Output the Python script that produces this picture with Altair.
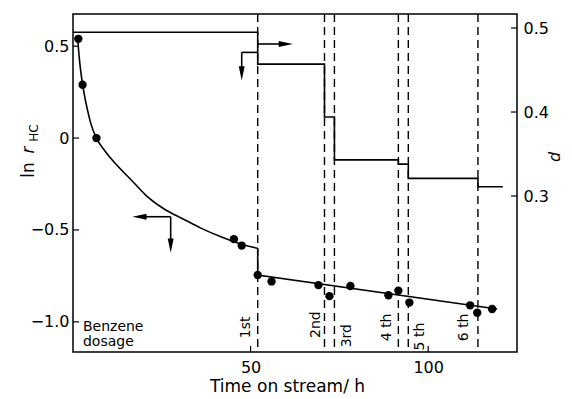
import altair as alt
import pandas as pd

FONT = "DejaVu Sans"

# ---------------- data ----------------
# measured ln r_HC points (left axis)
pt_t = [1.5, 2.7, 6.6, 45.3, 47.5, 52.0, 55.9, 69.1, 72.2, 78.1, 88.8, 91.6, 94.7, 111.8, 113.8, 118.0]
pt_v = [0.54, 0.29, 0.0, -0.55, -0.585, -0.745, -0.78, -0.80, -0.86, -0.805, -0.855, -0.83, -0.895, -0.91, -0.95, -0.93]

# fitted curve before 1st dosage (left axis)
cur_t = [1.3, 1.7, 2.2, 2.8, 4, 5, 6.6, 9, 12, 16, 21, 26, 31, 36, 42, 47, 52]
cur_v = [0.55, 0.45, 0.36, 0.28, 0.16, 0.08, 0.0, -0.07, -0.14, -0.22, -0.32, -0.39, -0.44, -0.49, -0.54, -0.575, -0.60]

# straight line after 1st dosage (left axis)
lin_t = [52.0, 52.0, 119.4]
lin_v = [-0.60, -0.745, -0.93]

# d step line (right axis)
d_t = [0, 52.0, 70.8, 73.6, 91.6, 94.4, 114.0, 121.0]
d_v = [0.495, 0.457, 0.394, 0.343, 0.338, 0.321, 0.311, 0.311]

# benzene dosage times
dose_t = [52.0, 70.8, 73.6, 91.6, 94.4, 114.0]
dose_lab = ["1st", "2nd", "3rd", "4 th", "5 th", "6 th"]
dose_lab_t = [48.6, 68.3, 77.2, 88.5, 97.8, 110.1]
dose_lab_v = [-1.03, -1.015, -1.075, -1.03, -1.08, -1.03]

note_lines = ["Benzene", "dosage"]
note_t = [2.8, 2.8]
note_v = [-1.028, -1.11]

x_ticks = [50, 100]
left_ticks = [0.5, 0.0, -0.5, -1.0]
right_ticks = [0.3, 0.4, 0.5]

# arrows (segments + heads)
arr_left_seg = {"t": [27.5, 27.5], "t2": [19.5, 27.5], "v": [-0.428, -0.428], "v2": [-0.428, -0.57]}
arr_left_head = {"t": [18.7, 27.5], "v": [-0.428, -0.585], "shape": ["M-1,0L1,-0.42L1,0.42Z", "M0,1L-0.42,-1L0.42,-1Z"]}
arr_right_seg = {"t": [52.0, 52.0, 47.5], "t2": [58.5, 47.5, 47.5], "d": [0.481, 0.471, 0.471], "d2": [0.481, 0.471, 0.452]}
arr_right_head = {"t": [59.9, 47.5], "d": [0.481, 0.446], "shape": ["M1,0L-1,-0.42L-1,0.42Z", "M0,1L-0.42,-1L0.42,-1Z"]}

# ---------------- scales / axes ----------------
W, H = 444, 338
x_scale = alt.Scale(domain=[0, 125], nice=False, zero=False)
x_axis = alt.Axis(values=x_ticks, title="Time on stream/ h", tickSize=0, domain=False, grid=False,
                  labelPadding=7, labelFontSize=16, labelFont=FONT, labelColor="black",
                  titleFontSize=17, titleFont=FONT, titleFontWeight="normal", titleColor="black",
                  titlePadding=3, titleX=214, titleAnchor="start", titleAlign="center")
x_enc = alt.X("t:Q", scale=x_scale, axis=x_axis)

left_scale = alt.Scale(domain=[-1.164, 0.675], nice=False, zero=False)
left_axis = alt.Axis(values=left_ticks, title=None, tickSize=0, domain=False, grid=False,
                     labelPadding=4, labelFontSize=16, labelFont=FONT, labelColor="black",
                     labelExpr="datum.value == 0 ? '0' : format(datum.value, '.1f')")
right_scale = alt.Scale(domain=[0.1143, 0.5167], nice=False, zero=False)
right_axis = alt.Axis(orient="right", values=right_ticks, format=".1f", title=None, tickSize=0, domain=False,
                      grid=False, labelPadding=6, labelFontSize=16, labelFont=FONT, labelColor="black")

yl = alt.Y("v:Q", scale=left_scale, axis=left_axis)
yr = alt.Y("d:Q", scale=right_scale, axis=right_axis)

one = pd.DataFrame({"k": [0]})

# ---------------- left layers ----------------
frame = alt.Chart(one).mark_rect(fill=None, stroke="black", strokeWidth=1.5).encode(
    x=alt.value(0), x2=alt.value(W), y=alt.value(0), y2=alt.value(H))

pts = alt.Chart(pd.DataFrame({"t": pt_t, "v": pt_v})).mark_point(
    filled=True, color="black", size=70, opacity=1).encode(x=x_enc, y=yl)

curve = alt.Chart(pd.DataFrame({"t": cur_t, "v": cur_v})).mark_line(
    color="black", strokeWidth=1.6, interpolate="monotone").encode(x=x_enc, y=yl)

lin = alt.Chart(pd.DataFrame({"t": lin_t, "v": lin_v, "o": list(range(len(lin_t)))})).mark_line(
    color="black", strokeWidth=1.6).encode(x=x_enc, y=yl, order="o:Q")

dash = alt.Chart(pd.DataFrame({"t": dose_t})).mark_rule(
    color="black", strokeWidth=1.4, strokeDash=[8, 5]).encode(x=x_enc, y=alt.value(0), y2=alt.value(H))

lab = alt.Chart(pd.DataFrame({"t": dose_lab_t, "v": dose_lab_v, "s": dose_lab})).mark_text(
    angle=270, align="center", baseline="middle", fontSize=14, font=FONT, color="black").encode(
    x=x_enc, y=yl, text="s:N")

note = alt.Chart(pd.DataFrame({"t": note_t, "v": note_v, "s": note_lines})).mark_text(
    align="left", baseline="middle", fontSize=14, font=FONT, color="black").encode(x=x_enc, y=yl, text="s:N")

lt = alt.Chart(pd.DataFrame({"v": left_ticks})).mark_rule(color="black", strokeWidth=1.2).encode(
    y=yl, x=alt.value(0), x2=alt.value(6))
bt = alt.Chart(pd.DataFrame({"t": x_ticks})).mark_rule(color="black", strokeWidth=1.2).encode(
    x=x_enc, y=alt.value(H), y2=alt.value(H - 6))

aseg = alt.Chart(pd.DataFrame(arr_left_seg)).mark_rule(color="black", strokeWidth=1.6).encode(
    x=x_enc, x2="t2:Q", y=yl, y2="v2:Q")
ahead = alt.Chart(pd.DataFrame(arr_left_head)).mark_point(filled=True, color="black", opacity=1, size=200).encode(
    x=x_enc, y=yl, shape=alt.Shape("shape:N", scale=None, legend=None))

ttl = alt.Chart(pd.DataFrame({"s": ["ln"]})).mark_text(
    angle=270, fontSize=17, font=FONT, color="black", baseline="middle", align="center").encode(
    text="s:N", x=alt.value(-44), y=alt.value(156))
ttl_r = alt.Chart(pd.DataFrame({"s": ["r"]})).mark_text(
    angle=270, fontSize=17, font=FONT, fontStyle="italic", color="black", baseline="middle", align="center").encode(
    text="s:N", x=alt.value(-44), y=alt.value(136))
ttl_hc = alt.Chart(pd.DataFrame({"s": ["HC"]})).mark_text(
    angle=270, fontSize=12, font=FONT, color="black", baseline="middle", align="center").encode(
    text="s:N", x=alt.value(-39), y=alt.value(119))

left = alt.layer(frame, dash, curve, lin, pts, lab, note, lt, bt, aseg, ahead, ttl, ttl_r, ttl_hc)

# ---------------- right layers ----------------
step = alt.Chart(pd.DataFrame({"t": d_t, "d": d_v})).mark_line(
    color="black", strokeWidth=1.6, interpolate="step-after").encode(x=x_enc, y=yr)
rt = alt.Chart(pd.DataFrame({"d": right_ticks})).mark_rule(color="black", strokeWidth=1.2).encode(
    y=yr, x=alt.value(W), x2=alt.value(W - 6))
rseg = alt.Chart(pd.DataFrame(arr_right_seg)).mark_rule(color="black", strokeWidth=1.6).encode(
    x=x_enc, x2="t2:Q", y=yr, y2="d2:Q")
rhead = alt.Chart(pd.DataFrame(arr_right_head)).mark_point(filled=True, color="black", opacity=1, size=200).encode(
    x=x_enc, y=yr, shape=alt.Shape("shape:N", scale=None, legend=None))
dttl = alt.Chart(pd.DataFrame({"s": ["d"]})).mark_text(
    angle=270, fontSize=16, font=FONT, fontStyle="italic", color="black", baseline="middle", align="center").encode(
    text="s:N", x=alt.value(482), y=alt.value(143))

right = alt.layer(step, rt, rseg, rhead, dttl)

chart = alt.layer(left, right).resolve_scale(y="independent").properties(
    width=W, height=H, autosize="none", background="white",
    padding={"left": 65, "top": 6, "right": 47, "bottom": 45},
).configure_view(stroke=None)

chart.save("out.html", embed_options={"renderer": "svg", "actions": False})
